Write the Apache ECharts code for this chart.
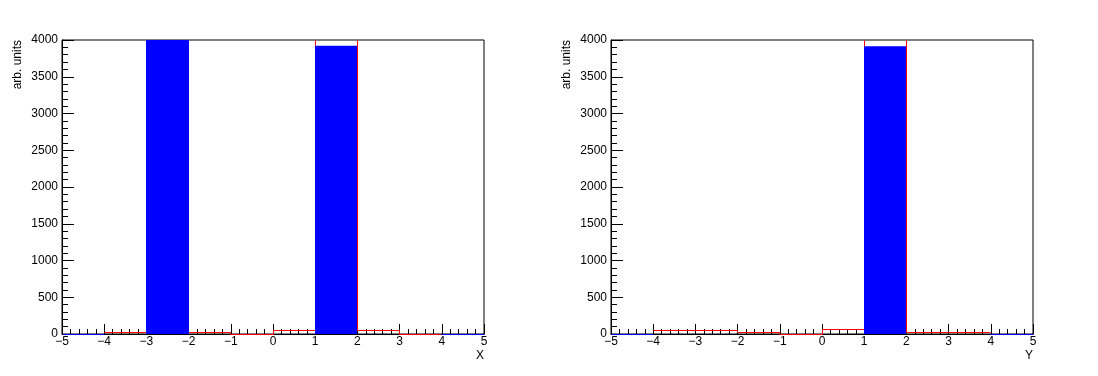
<!DOCTYPE html>
<html><head><meta charset="utf-8">
<script src="https://cdn.jsdelivr.net/npm/echarts@6/dist/echarts.min.js"></script>
<style>html,body{margin:0;padding:0;background:#fff}#c{width:1098px;height:376px}</style>
</head><body><div id="c"></div>
<script>
// bin edges shared by both histograms
const binEdges = [-5, -4, -3, -2, -1, 0, 1, 2, 3, 4, 5];
// left panel (X)
const xRedCounts  = [null, 27, 4060, 14, 0, 41, 4040, 41, 0, null];
const xBlueCounts = [0, 0, 4010, 0, 0, 0, 3922, 0, 0, 0];
// right panel (Y)
const yRedCounts  = [null, 41, 41, 14, 0, 68, 4040, 14, 27, null];
const yBlueCounts = [0, 0, 0, 0, 0, 0, 3914, 0, 0, 0];
const axisTitles = ['X', 'Y'];
const yAxisTitle = 'arb. units';
const yMax = 4000;

const FONT = 'Liberation Sans, Arial, Helvetica, sans-serif';
const FS = 12;
const chart = echarts.init(document.getElementById('c'), null, {renderer: 'canvas'});

// outline histogram: each item = [lo, hi, value, previous value, isOutsideRange]
function outlineData(counts, blue) {
  const out = [];
  counts.forEach((v, i) => {
    const prev = (i > 0 && counts[i - 1] !== null) ? counts[i - 1] : v;
    if (v !== null) out.push([binEdges[i], binEdges[i + 1], v, prev, 0]);
    else out.push([binEdges[i], binEdges[i + 1], blue[i], blue[i], 1]);
  });
  return out;
}
function barData(counts) {
  return counts.map((v, i) => [binEdges[i], binEdges[i + 1], v]);
}
const snap = p => Math.round(p - 0.5) + 0.5;

function outlineRender(params, api) {
  const top = params.coordSys.y;
  const lo = api.value(0), hi = api.value(1), v = api.value(2), prev = api.value(3);
  const color = api.value(4) ? '#0000ff' : '#ff0000';
  const a = api.coord([lo, prev]), b = api.coord([lo, v]), c = api.coord([hi, v]);
  const children = [];
  const ya = snap(Math.max(a[1], top)), yb = snap(Math.max(b[1], top));
  if (ya !== yb) children.push({type: 'line', shape: {x1: snap(a[0]), y1: ya, x2: snap(b[0]), y2: yb},
    style: {stroke: color, lineWidth: 1}});
  if (b[1] >= top) children.push({type: 'line', shape: {x1: snap(b[0]), y1: snap(b[1]), x2: snap(c[0]), y2: snap(c[1])},
    style: {stroke: color, lineWidth: 1}});
  return {type: 'group', children: children};
}

const grids = [
  {left: 62, top: 40, width: 422, height: 294},
  {left: 611, top: 40, width: 422, height: 294}
];
const xAxes = [], yAxes = [], series = [], graphics = [];
const panels = [[xRedCounts, xBlueCounts], [yRedCounts, yBlueCounts]];

grids.forEach((g, k) => {
  g.show = true; g.borderColor = '#000'; g.borderWidth = 1; g.backgroundColor = 'transparent';
  xAxes.push({
    gridIndex: k, type: 'value', min: binEdges[0], max: binEdges[binEdges.length - 1], interval: 1,
    axisLine: {onZero: false, lineStyle: {color: '#000', width: 1}},
    axisTick: {inside: true, length: 10, lineStyle: {color: '#000'}},
    minorTick: {show: true, splitNumber: 5, length: 5, lineStyle: {color: '#000'}},
    splitLine: {show: false}, minorSplitLine: {show: false},
    axisLabel: {color: '#000', fontSize: FS, fontFamily: FONT, margin: 2,
      formatter: v => String(v).replace('-', '\u2212')}
  });
  yAxes.push({
    gridIndex: k, type: 'value', min: 0, max: yMax, interval: 500,
    axisLine: {show: true, onZero: false, lineStyle: {color: '#000', width: 1}},
    axisTick: {inside: true, length: 12, lineStyle: {color: '#000'}},
    minorTick: {show: true, splitNumber: 5, length: 6, lineStyle: {color: '#000'}},
    splitLine: {show: false}, minorSplitLine: {show: false},
    axisLabel: {color: '#000', fontSize: FS, fontFamily: FONT, margin: 4, formatter: v => String(v)}
  });
  const [red, blue] = panels[k];
  series.push({
    type: 'custom', xAxisIndex: k, yAxisIndex: k, data: outlineData(red, blue), z: 10, clip: false,
    animation: false, encode: {x: [0, 1], y: 2}, renderItem: outlineRender
  });
  series.push({
    type: 'custom', xAxisIndex: k, yAxisIndex: k, data: barData(blue), z: 11, clip: true,
    animation: false, encode: {x: [0, 1], y: 2},
    renderItem: (params, api) => {
      const v = api.value(2);
      if (!v) return null;
      const p0 = api.coord([api.value(0), 0]);
      const p1 = api.coord([api.value(1), v]);
      const x0 = Math.round(p0[0]), x1 = Math.round(p1[0]);
      const shape = echarts.graphic.clipRectByRect(
        {x: x0, y: p1[1], width: x1 - x0, height: p0[1] - p1[1]},
        params.coordSys);
      return shape && {type: 'rect', shape: shape, style: {fill: '#0000ff'}};
    }
  });
  graphics.push({
    type: 'text', x: g.left - 44, y: g.top, rotation: Math.PI / 2,
    style: {text: yAxisTitle, fill: '#000', font: FS + 'px ' + FONT, textAlign: 'right', textVerticalAlign: 'middle'}
  });
  graphics.push({
    type: 'text', x: g.left + g.width, y: g.top + g.height + 22,
    style: {text: axisTitles[k], fill: '#000', font: FS + 'px ' + FONT, textAlign: 'right', textVerticalAlign: 'middle'}
  });
});

chart.setOption({
  animation: false,
  backgroundColor: '#fff',
  grid: grids, xAxis: xAxes, yAxis: yAxes, series: series, graphic: graphics
});
</script></body></html>
